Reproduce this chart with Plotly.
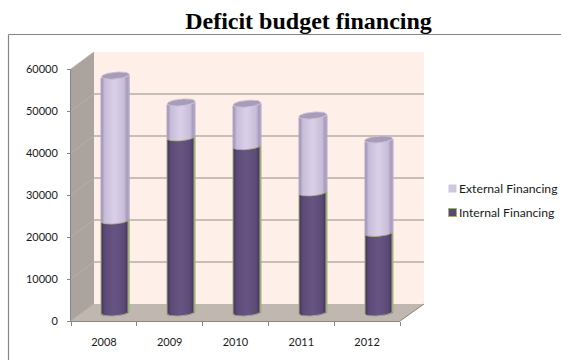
import math
import plotly.graph_objects as go

# Chart data
years = ["2008", "2009", "2010", "2011", "2012"]
internal_financing = [21900, 41700, 39600, 28600, 18950]
external_financing = [34500, 8300, 10100, 18300, 22250]
value_ticks = [0, 10000, 20000, 30000, 40000, 50000, 60000]

W, H = 561, 360
# Front plane of the fake-3D box, in pixels, and the depth of the box
FX0, FX1, FY0, FY1 = 71, 400, 69, 321
DX, DY = 23, 17
Y_MAX = 60000
PX_PER_UNIT = (FY1 - FY0) / Y_MAX

GREY = "#868686"
TEXT = "#1a1a1a"
FONT = "Lato"


def px(x):
    return x / W


def py(y):
    return 1 - y / H


def poly(points, fill):
    path = "M" + "L".join(f"{px(x):.5f},{py(y):.5f}" for x, y in points) + "Z"
    return dict(type="path", xref="paper", yref="paper", path=path,
                fillcolor=fill, line=dict(width=0), layer="below")


def segment(x0, y0, x1, y1, color, width=1.0, layer="below"):
    return dict(type="line", xref="paper", yref="paper",
                x0=px(x0), y0=py(y0), x1=px(x1), y1=py(y1),
                line=dict(color=color, width=width), layer=layer)


def mix(c0, c1, t):
    a = [int(c0[i:i + 2], 16) for i in (1, 3, 5)]
    b = [int(c1[i:i + 2], 16) for i in (1, 3, 5)]
    return "#" + "".join(f"{round(p + (q - p) * t):02x}" for p, q in zip(a, b))


def cylinder_shade(u, edge, shoulder, centre):
    """Colour across a cylinder, u running from -1 at one side to 1 at the other."""
    a = abs(u)
    if a > 0.7:
        return mix(shoulder, edge, (a - 0.7) / 0.3)
    return mix(centre, shoulder, a / 0.7)


# Walls and floor of the box
shapes = [
    poly([(FX0 + DX, FY0 - DY), (FX1 + DX + 1, FY0 - DY),
          (FX1 + DX + 1, FY1 - DY), (FX0 + DX, FY1 - DY)], "#FEF0E8"),
    poly([(FX0, FY0), (FX0 + DX, FY0 - DY), (FX0 + DX, FY1 - DY), (FX0, FY1)], "#ABA39D"),
    poly([(FX0, FY1), (FX0 + DX, FY1 - DY), (FX1 + DX + 1, FY1 - DY), (FX1, FY1)], "#C1B7B1"),
]
for v in value_ticks:
    y = FY1 - v * PX_PER_UNIT
    shapes.append(segment(FX0, y, FX0 + DX, y - DY, "#B7B0AA", 1.0))
shapes.append(segment(FX1, FY1, FX1 + DX + 1, FY1 - DY, GREY, 1.0))

# Frame around the chart area
shapes.append(segment(8.5, 34.5, W, 34.5, GREY, 1.2))
shapes.append(segment(8.5, 34.5, 8.5, H, GREY, 1.2))

# Legend swatches
shapes.append(dict(type="rect", xref="paper", yref="paper",
                   x0=px(448.5), x1=px(456.5), y0=py(184.5), y1=py(192.5),
                   fillcolor="#CFC6E0", line=dict(width=0)))
shapes.append(dict(type="rect", xref="paper", yref="paper",
                   x0=px(448.5), x1=px(456.5), y0=py(208.5), y1=py(216.5),
                   fillcolor="#5B4778", line=dict(color="#9DAF78", width=1)))

fig = go.Figure()

# Cylinder geometry in axis units
BAR_WIDTH = 0.425
HALF_W = BAR_WIDTH / 2
RIM = 3.4 / PX_PER_UNIT
TILT = 1.2 / PX_PER_UNIT
STRIPS = 28
BELOW_ZERO_PX = 10
totals = [a + b for a, b in zip(internal_financing, external_financing)]
positions = list(range(len(years)))


def front_arc(u):
    """Height offset of the near edge of a cylinder's rim at position u."""
    return -RIM * math.sqrt(max(0.0, 1 - u * u)) + TILT * u


# Each cylinder is a stack of narrow bars shaded across its width
for i in range(STRIPS):
    u = (i + 0.5) / STRIPS * 2 - 1
    off = -HALF_W + BAR_WIDTH * i / STRIPS
    strip = BAR_WIDTH / STRIPS * 1.35
    arc = front_arc(u)
    outer = i in (0, STRIPS - 1)
    fig.add_trace(go.Bar(
        x=positions, y=internal_financing,
        base=[arc] * len(years), width=strip, offset=off,
        marker=dict(color="#9DAF78" if outer else cylinder_shade(u, "#3F3058", "#5C4A77", "#685583"),
                    line=dict(width=0)),
        xaxis="x2", yaxis="y2", cliponaxis=False, hoverinfo="skip", name="Internal Financing",
    ))
    fig.add_trace(go.Bar(
        x=positions, y=external_financing,
        base=[v + arc for v in internal_financing], width=strip, offset=off,
        marker=dict(color="#B3A8C6" if outer else cylinder_shade(u, "#8F84A4", "#C7BDD9", "#D9D0E8"),
                    line=dict(width=0)),
        xaxis="x2", yaxis="y2", cliponaxis=False, hoverinfo="skip", name="External Financing",
    ))

# Elliptical caps and rims, placed from the same values as the bars
samples = [k / 24 * 2 - 1 for k in range(25)]
for pos, top, inner in zip(positions, totals, internal_financing):
    upper_u = samples[::-1]
    xs = [pos + HALF_W * u for u in samples] + [pos + HALF_W * u for u in upper_u]
    ys = [top + front_arc(u) for u in samples] + \
         [top + RIM * math.sqrt(max(0.0, 1 - u * u)) + TILT * u for u in upper_u]
    fig.add_trace(go.Scatter(
        x=xs, y=ys, mode="lines", fill="toself", fillcolor="#A79CB9",
        line=dict(color="#C9C0D8", width=1), xaxis="x2", yaxis="y2",
        cliponaxis=False, hoverinfo="skip", showlegend=False,
    ))
    arc_x = [pos + HALF_W * u for u in samples]
    fig.add_trace(go.Scatter(
        x=arc_x, y=[front_arc(u) for u in samples], mode="lines",
        line=dict(color="#9DAF78", width=1), xaxis="x2", yaxis="y2",
        cliponaxis=False, hoverinfo="skip", showlegend=False,
    ))
    fig.add_trace(go.Scatter(
        x=arc_x, y=[inner + front_arc(u) for u in samples], mode="lines",
        line=dict(color="#9DAF78", width=0.8), xaxis="x2", yaxis="y2",
        cliponaxis=False, hoverinfo="skip", showlegend=False,
    ))

# Back-plane axis carries the gridlines
fig.add_trace(go.Scatter(x=[0], y=[None], xaxis="x", yaxis="y", showlegend=False, hoverinfo="skip"))
# Front-plane axis carries the ticks and labels
fig.add_trace(go.Scatter(x=years, y=[None] * len(years), xaxis="x3", yaxis="y3",
                         showlegend=False, hoverinfo="skip"))

annotations = [
    dict(text=label, xref="paper", yref="paper", x=px(456.5), y=py(y),
         xanchor="left", yanchor="middle", showarrow=False,
         font=dict(family=FONT, size=12.2, color=TEXT))
    for label, y in (("External Financing", 188), ("Internal Financing", 212))
]

hidden = dict(visible=False, showgrid=False, zeroline=False, fixedrange=True)
fig.update_layout(
    width=W, height=H,
    margin=dict(l=0, r=0, t=0, b=0, autoexpand=False),
    paper_bgcolor="white", plot_bgcolor="rgba(0,0,0,0)",
    showlegend=False, barmode="overlay",
    title=dict(text="<b>Deficit budget financing</b>", x=308.5 / W, xanchor="center",
               y=py(21), yanchor="middle", yref="container",
               font=dict(family="Liberation Serif", size=24, color="black")),
    shapes=shapes, annotations=annotations,
    xaxis=dict(hidden, domain=[px(FX0 + DX), px(FX1 + DX + 1)], range=[0, 1], anchor="y"),
    yaxis=dict(domain=[py(FY1 - DY), py(FY0 - DY)], range=[0, Y_MAX], anchor="x",
               visible=True, showticklabels=False, ticks="", showline=False, zeroline=False,
               showgrid=True, tickvals=value_ticks, gridcolor="#C6BEB7", gridwidth=2),
    xaxis2=dict(hidden, domain=[px(FX0 + DX / 2), px(FX1 + DX / 2)], range=[-0.5, 4.5], anchor="y2"),
    # The mid-plane axis runs a little below zero so the rounded cylinder bases stay visible
    yaxis2=dict(hidden, domain=[py(FY1 - DY / 2 + BELOW_ZERO_PX), py(FY0 - DY / 2)],
                range=[-BELOW_ZERO_PX / PX_PER_UNIT, Y_MAX], anchor="x2"),
    xaxis3=dict(domain=[px(FX0), px(FX1)], type="category", categoryorder="array",
                categoryarray=years, range=[-0.5, 4.5], anchor="y3", tickson="boundaries",
                ticks="outside", ticklen=4, tickcolor=GREY, showline=True, linecolor=GREY,
                showgrid=False, zeroline=False, ticklabelstandoff=11,
                tickfont=dict(family=FONT, size=11, color=TEXT)),
    yaxis3=dict(domain=[py(FY1), py(FY0)], range=[0, Y_MAX], anchor="x3", tickvals=value_ticks,
                tickformat="d", ticks="outside", ticklen=3, tickcolor=GREY, showline=True,
                linecolor=GREY, showgrid=False, zeroline=False, ticklabelstandoff=7,
                tickfont=dict(family=FONT, size=11, color=TEXT)),
)

fig.write_html("out.html", config=dict(displayModeBar=False))
